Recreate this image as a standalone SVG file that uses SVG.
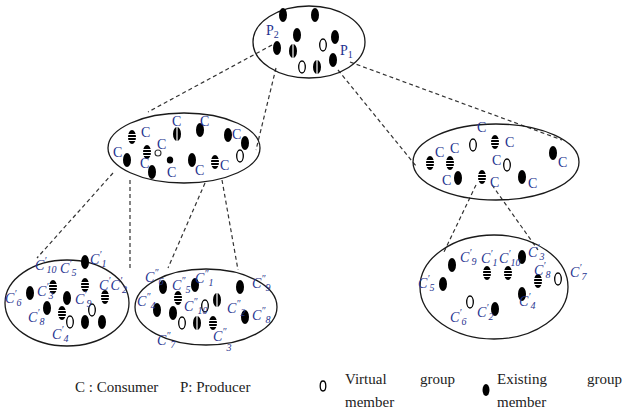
<svg xmlns="http://www.w3.org/2000/svg" xmlns:xlink="http://www.w3.org/1999/xlink" width="626" height="415" viewBox="0 0 626 415">
  <style>
    .grp { fill: none; stroke: #1a1a1a; stroke-width: 1.3; }
    .con { fill: none; stroke: #333; stroke-width: 1.2; stroke-dasharray: 4 3; }
    .c { font-family: "Liberation Serif", serif; font-size: 14px; fill: #1f3390; }
    .ci { font-family: "Liberation Serif", serif; font-size: 14px; font-style: italic; fill: #1f3390; }
    .s { font-size: 10px; }
    .leg { font-family: "Liberation Serif", serif; font-size: 15px; fill: #222; }
  </style>
  <defs>
    <!-- existing member -->
    <g id="mf"><ellipse rx="4" ry="7" fill="#000"/></g>
    <!-- existing member, striped -->
    <g id="mh"><ellipse rx="4" ry="7" fill="#000"/><path d="M-4 -2.5H4M-4 0.5H4M-4 3.5H4" stroke="#fff" stroke-width="1"/></g>
    <!-- existing member, split -->
    <g id="ms"><ellipse rx="4" ry="7" fill="#000"/><path d="M0 -7V7" stroke="#fff" stroke-width="1.2"/></g>
    <!-- virtual member -->
    <g id="mv"><ellipse rx="3.3" ry="6" fill="#fff" stroke="#000" stroke-width="1.3"/></g>
  </defs>

  <!-- connectors -->
  <g id="connectors">
    <path class="con" d="M272 45L148 112"/>
    <path class="con" d="M276 68L256 150"/>
    <path class="con" d="M350 62L562 140"/>
    <path class="con" d="M338 70L416 166"/>
    <path class="con" d="M113 173L37 258"/>
    <path class="con" d="M130 180V270"/>
    <path class="con" d="M205 183L168 268"/>
    <path class="con" d="M222 180L238 270"/>
    <path class="con" d="M476 185L443 254"/>
    <path class="con" d="M492 185L538 250"/>
  </g>

  <!-- producers -->
  <g id="producers">
    <ellipse class="grp" cx="309" cy="42" rx="56" ry="36"/>
    <use href="#mf" x="283" y="15"/>
    <use href="#mf" x="315" y="15"/>
    <use href="#mf" x="297" y="35"/>
    <use href="#mf" x="335" y="37"/>
    <use href="#mf" x="277" y="48"/>
    <use href="#ms" x="293" y="51"/>
    <use href="#mv" x="323" y="45"/>
    <use href="#mf" x="333" y="60"/>
    <use href="#mv" x="302" y="67"/>
    <use href="#ms" x="317" y="67"/>
    <text class="c" x="266" y="35">P<tspan class="s" dy="3">2</tspan></text>
    <text class="c" x="340" y="55">P<tspan class="s" dy="3">1</tspan></text>
  </g>

  <!-- consumer group, left -->
  <g id="group-left">
    <ellipse class="grp" cx="184" cy="148" rx="76" ry="35"/>
    <use href="#mh" x="132" y="137"/>
    <use href="#ms" x="177" y="134"/>
    <use href="#mf" x="200" y="130"/>
    <use href="#mf" x="228" y="135"/>
    <use href="#mf" x="245" y="143"/>
    <use href="#mv" x="240" y="156"/>
    <use href="#mf" x="127" y="160"/>
    <use href="#mh" x="147" y="152"/>
    <circle cx="158" cy="153" r="3" fill="#fff" stroke="#333" stroke-width="1.1"/>
    <use href="#mf" x="152" y="172"/>
    <ellipse cx="170" cy="160" rx="3.2" ry="3.5" fill="#000"/>
    <use href="#mf" x="192" y="160"/>
    <use href="#mh" x="215" y="162"/>
    <text class="c" x="141" y="137">C</text>
    <text class="c" x="172" y="126">C</text>
    <text class="c" x="200" y="126">C</text>
    <text class="c" x="232" y="139">C</text>
    <text class="c" x="113" y="157">C</text>
    <text class="c" x="157" y="149">C</text>
    <text class="c" x="140" y="168">C</text>
    <text class="c" x="167" y="177">C</text>
    <text class="c" x="195" y="175">C</text>
    <text class="c" x="220" y="170">C</text>
  </g>

  <!-- consumer group, right -->
  <g id="group-right">
    <ellipse class="grp" cx="496" cy="162" rx="83" ry="38"/>
    <use href="#mv" x="473" y="145"/>
    <use href="#mh" x="495" y="142"/>
    <use href="#mh" x="430" y="163"/>
    <use href="#mh" x="450" y="163"/>
    <use href="#mv" x="507" y="165"/>
    <use href="#mf" x="553" y="153"/>
    <use href="#mf" x="458" y="178"/>
    <use href="#mh" x="482" y="177"/>
    <use href="#mf" x="522" y="177"/>
    <text class="c" x="477" y="132">C</text>
    <text class="c" x="505" y="147">C</text>
    <text class="c" x="435" y="157">C</text>
    <text class="c" x="450" y="153">C</text>
    <text class="c" x="492" y="165">C</text>
    <text class="c" x="558" y="167">C</text>
    <text class="c" x="442" y="185">C</text>
    <text class="c" x="490" y="187">C</text>
    <text class="c" x="528" y="188">C</text>
  </g>

  <!-- consumer group, bottom left -->
  <g id="group-bl1">
    <ellipse class="grp" cx="67" cy="303" rx="62" ry="43"/>
    <use href="#mf" x="85" y="262"/>
    <use href="#mf" x="30" y="293"/>
    <use href="#mh" x="53" y="287"/>
    <use href="#mh" x="85" y="285"/>
    <use href="#mf" x="67" y="298"/>
    <use href="#mh" x="105" y="297"/>
    <use href="#mf" x="47" y="308"/>
    <use href="#mh" x="62" y="313"/>
    <use href="#mv" x="92" y="310"/>
    <use href="#mv" x="70" y="322"/>
    <use href="#mf" x="85" y="322"/>
    <use href="#mf" x="102" y="322"/>
    <text class="ci" x="35" y="270">C<tspan class="s" dy="-6">′</tspan><tspan class="s" dy="9">10</tspan></text>
    <text class="ci" x="60" y="273">C<tspan class="s" dy="-6">′</tspan><tspan class="s" dy="9">5</tspan></text>
    <text class="ci" x="90" y="264">C<tspan class="s" dy="-6">′</tspan><tspan class="s" dy="9">1</tspan></text>
    <text class="ci" x="5" y="303">C<tspan class="s" dy="-6">′</tspan><tspan class="s" dy="9">6</tspan></text>
    <text class="ci" x="37" y="296">C<tspan class="s" dy="-6">′</tspan><tspan class="s" dy="9">3</tspan></text>
    <text class="ci" x="99" y="290">C<tspan class="s" dy="-6">′</tspan><tspan dy="6">C</tspan><tspan class="s" dy="-6">′</tspan><tspan class="s" dy="9">2</tspan></text>
    <text class="ci" x="75" y="304">C<tspan class="s" dy="-6">′</tspan><tspan class="s" dy="9">9</tspan></text>
    <text class="ci" x="28" y="322">C<tspan class="s" dy="-6">′</tspan><tspan class="s" dy="9">8</tspan></text>
    <text class="ci" x="52" y="339">C<tspan class="s" dy="-6">′</tspan><tspan class="s" dy="9">4</tspan></text>
  </g>

  <!-- consumer group, bottom middle -->
  <g id="group-bl2">
    <ellipse class="grp" cx="206" cy="307" rx="71" ry="38"/>
    <use href="#mf" x="163" y="287"/>
    <use href="#mh" x="178" y="298"/>
    <use href="#mf" x="195" y="285"/>
    <use href="#mf" x="240" y="287"/>
    <use href="#mf" x="157" y="310"/>
    <use href="#mf" x="173" y="313"/>
    <use href="#mv" x="205" y="306"/>
    <use href="#ms" x="217" y="300"/>
    <use href="#mf" x="245" y="317"/>
    <use href="#mv" x="182" y="323"/>
    <use href="#ms" x="197" y="323"/>
    <use href="#mh" x="213" y="323"/>
    <text class="ci" x="145" y="282">C<tspan class="s" dy="-6">″</tspan><tspan class="s" dy="9">6</tspan></text>
    <text class="ci" x="172" y="290">C<tspan class="s" dy="-6">″</tspan><tspan class="s" dy="9">5</tspan></text>
    <text class="ci" x="195" y="283">C<tspan class="s" dy="-6">″</tspan><tspan class="s" dy="9">1</tspan></text>
    <text class="ci" x="252" y="288">C<tspan class="s" dy="-6">″</tspan><tspan class="s" dy="9">9</tspan></text>
    <text class="ci" x="137" y="306">C<tspan class="s" dy="-6">″</tspan><tspan class="s" dy="9">4</tspan></text>
    <text class="ci" x="184" y="311">C<tspan class="s" dy="-6">″</tspan><tspan class="s" dy="9">10</tspan></text>
    <text class="ci" x="227" y="313">C<tspan class="s" dy="-6">″</tspan><tspan class="s" dy="9">2</tspan></text>
    <text class="ci" x="252" y="320">C<tspan class="s" dy="-6">″</tspan><tspan class="s" dy="9">8</tspan></text>
    <text class="ci" x="157" y="345">C<tspan class="s" dy="-6">″</tspan><tspan class="s" dy="9">7</tspan></text>
    <text class="ci" x="213" y="341">C<tspan class="s" dy="-6">″</tspan><tspan class="s" dy="16">3</tspan></text>
  </g>

  <!-- consumer group, bottom right -->
  <g id="group-br">
    <ellipse class="grp" cx="494" cy="287" rx="74" ry="52"/>
    <use href="#mf" x="452" y="265"/>
    <use href="#mf" x="522" y="257"/>
    <use href="#mh" x="487" y="273"/>
    <use href="#mh" x="508" y="273"/>
    <use href="#mh" x="538" y="281"/>
    <use href="#mv" x="558" y="279"/>
    <use href="#mf" x="443" y="284"/>
    <use href="#mf" x="522" y="294"/>
    <use href="#mv" x="470" y="302"/>
    <use href="#mf" x="495" y="309"/>
    <text class="ci" x="460" y="262">C<tspan class="s" dy="-6">′</tspan><tspan class="s" dy="9">9</tspan></text>
    <text class="ci" x="481" y="263">C<tspan class="s" dy="-6">′</tspan><tspan class="s" dy="9">1</tspan></text>
    <text class="ci" x="499" y="263">C<tspan class="s" dy="-6">′</tspan><tspan class="s" dy="9">10</tspan></text>
    <text class="ci" x="528" y="257">C<tspan class="s" dy="-6">′</tspan><tspan class="s" dy="9">3</tspan></text>
    <text class="ci" x="534" y="275">C<tspan class="s" dy="-6">′</tspan><tspan class="s" dy="9">8</tspan></text>
    <text class="ci" x="570" y="277">C<tspan class="s" dy="-6">′</tspan><tspan class="s" dy="9">7</tspan></text>
    <text class="ci" x="418" y="288">C<tspan class="s" dy="-6">′</tspan><tspan class="s" dy="9">5</tspan></text>
    <text class="ci" x="519" y="306">C<tspan class="s" dy="-6">′</tspan><tspan class="s" dy="9">4</tspan></text>
    <text class="ci" x="450" y="322">C<tspan class="s" dy="-6">′</tspan><tspan class="s" dy="9">6</tspan></text>
    <text class="ci" x="477" y="317">C<tspan class="s" dy="-6">′</tspan><tspan class="s" dy="9">2</tspan></text>
  </g>

  <!-- legend -->
  <g id="legend">
    <text class="leg" x="75" y="392">C : Consumer</text>
    <text class="leg" x="180" y="392">P: Producer</text>
    <ellipse cx="323" cy="386" rx="2.8" ry="5" fill="#fff" stroke="#000" stroke-width="1.3"/>
    <text class="leg" x="345" y="384">Virtual</text>
    <text class="leg" x="420" y="384">group</text>
    <text class="leg" x="345" y="407">member</text>
    <ellipse cx="486" cy="390" rx="3.5" ry="6" fill="#000"/>
    <text class="leg" x="497" y="384">Existing</text>
    <text class="leg" x="587" y="384">group</text>
    <text class="leg" x="497" y="407">member</text>
  </g>
</svg>
